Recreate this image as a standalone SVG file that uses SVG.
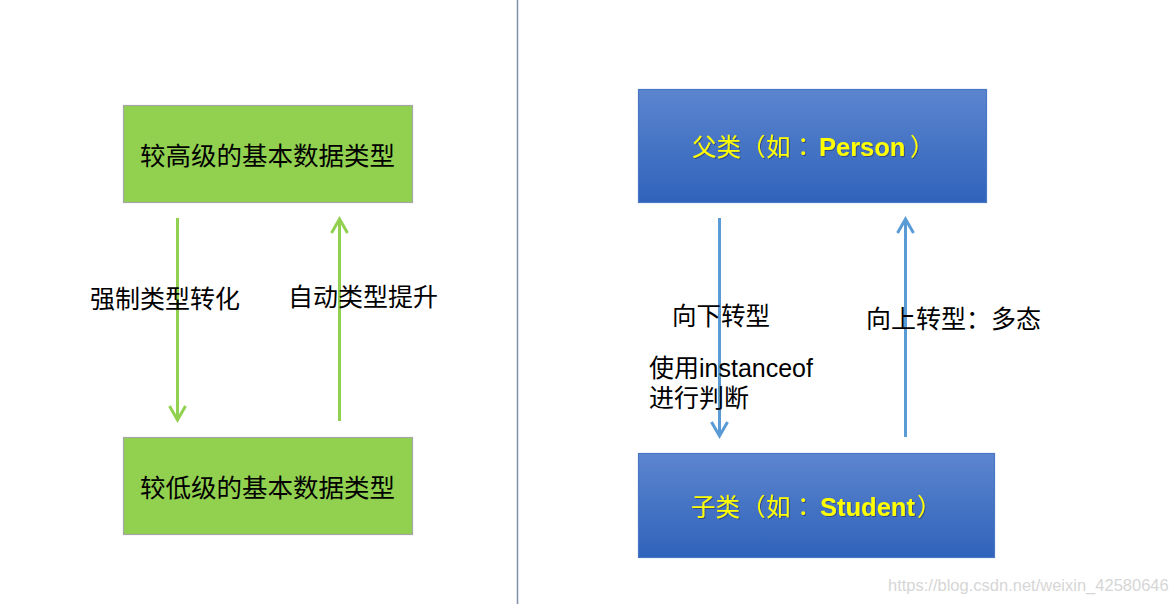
<svg xmlns="http://www.w3.org/2000/svg" width="1169" height="604" viewBox="0 0 1169 604">
<defs>
<style>
.txt{font-family:"Liberation Sans","Noto Sans CJK SC",sans-serif;fill:#000;}
.gbox{fill:#92d050;stroke:#a6a6a6;stroke-width:1.2;}
.bbox{fill:url(#blueGrad);stroke:#4a76c6;stroke-width:1.2;}
.ytxt{font-family:"Liberation Sans","Noto Sans CJK SC",sans-serif;fill:#ffff00;font-size:24.5px;filter:url(#shadow);}
.lat{font-weight:bold;font-size:25.5px;}
.colon{font-family:"Noto Sans CJK JP",sans-serif;}
.garrow{stroke:#92d050;stroke-width:3;fill:none;}
.barrow{stroke:#5b9bd5;stroke-width:3;fill:none;}
</style>
<linearGradient id="blueGrad" x1="0" y1="0" x2="0" y2="1">
<stop offset="0" stop-color="#5c85cf"/>
<stop offset="1" stop-color="#2f63ba"/>
</linearGradient>
<filter id="shadow" x="-5%" y="-20%" width="110%" height="140%">
<feDropShadow dx="1" dy="1" stdDeviation="0.4" flood-color="#1a1a40" flood-opacity="0.5"/>
</filter>
<marker id="gHead" markerUnits="userSpaceOnUse" markerWidth="20" markerHeight="20" refX="16" refY="10" orient="auto" viewBox="0 0 20 20" overflow="visible">
<path d="M2 2 L16 10 L2 18" fill="none" stroke="#92d050" stroke-width="3"/>
</marker>
<marker id="bHead" markerUnits="userSpaceOnUse" markerWidth="20" markerHeight="20" refX="16" refY="10" orient="auto" viewBox="0 0 20 20" overflow="visible">
<path d="M2 2 L16 10 L2 18" fill="none" stroke="#5b9bd5" stroke-width="3"/>
</marker>
</defs>
<rect x="0" y="0" width="1169" height="604" fill="#ffffff"/>
<line x1="517.5" y1="0" x2="517.5" y2="604" stroke="#8090a8" stroke-width="1.5"/>

<g id="node-high">
<rect class="gbox" x="123.5" y="105.5" width="289" height="97"/>
<text class="txt" x="140" y="165" font-size="25.5">较高级的基本数据类型</text>
</g>
<g id="node-low">
<rect class="gbox" x="123.5" y="437.5" width="289" height="97"/>
<text class="txt" x="140" y="497" font-size="25.5">较低级的基本数据类型</text>
</g>
<g id="node-parent">
<rect class="bbox" x="638.5" y="89.5" width="348" height="113"/>
<text class="ytxt" y="156"><tspan x="692">父类</tspan><tspan x="741">（</tspan><tspan x="766">如</tspan><tspan x="791" class="colon">：</tspan><tspan x="819" class="lat">Person</tspan><tspan x="910">）</tspan></text>
</g>
<g id="node-child">
<rect class="bbox" x="638.5" y="453.5" width="356" height="104"/>
<text class="ytxt" y="516"><tspan x="691">子类</tspan><tspan x="741">（</tspan><tspan x="766">如</tspan><tspan x="791" class="colon">：</tspan><tspan x="820" class="lat">Student</tspan><tspan x="917">）</tspan></text>
</g>

<g id="connectors">
<line class="garrow" x1="177.5" y1="218" x2="177.5" y2="420" marker-end="url(#gHead)"/>
<line class="garrow" x1="339.5" y1="421" x2="339.5" y2="219" marker-end="url(#gHead)"/>
<line class="barrow" x1="719.5" y1="218" x2="719.5" y2="436" marker-end="url(#bHead)"/>
<line class="barrow" x1="905.5" y1="437" x2="905.5" y2="219" marker-end="url(#bHead)"/>
</g>

<g id="labels">
<text class="txt" x="90" y="308" font-size="25">强制类型转化</text>
<text class="txt" x="288" y="306" font-size="25">自动类型提升</text>
<text class="txt" x="672" y="325" font-size="24.5">向下转型</text>
<text class="txt" x="866" y="328" font-size="25">向上转型：多态</text>
<text class="txt" x="649" y="377" font-size="25">使用instanceof</text>
<text class="txt" x="649" y="407" font-size="25">进行判断</text>
</g>
<text x="888" y="591" font-family="Liberation Sans, sans-serif" font-size="16.5" fill="#d6d6d6">https://blog.csdn.net/weixin_42580646</text>
</svg>
